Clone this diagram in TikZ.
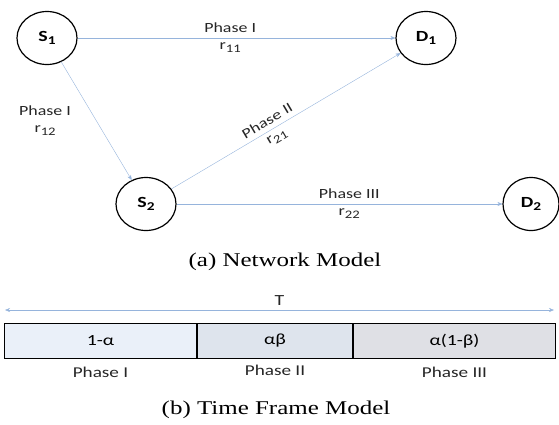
\documentclass[tikz,border=0pt]{standalone}
\usepackage{fontspec}
\setmainfont[FakeStretch=1.28]{Liberation Serif}
\newfontfamily\labelfont[FakeStretch=1.28]{Carlito}
\usetikzlibrary{shapes.geometric,arrows.meta}
\newcommand{\lsub}[2][11.5]{\raisebox{-0.45ex}{\fontsize{#1}{#1}\selectfont #2}}
\definecolor{linkblue}{RGB}{150,180,220}
\definecolor{boxa}{RGB}{234,240,249}
\definecolor{boxb}{RGB}{222,228,237}
\definecolor{boxc}{RGB}{223,224,229}
\tikzset{
  user/.style={ellipse,draw,line width=1.2pt,minimum width=60pt,minimum height=53pt,inner sep=0pt,font=\labelfont\fontsize{15.5}{15.5}\selectfont\bfseries},
  link/.style={draw=linkblue,-{Stealth[length=5pt,width=4pt]}},
  lbl/.style={align=center,font=\labelfont\fontsize{14}{17}\selectfont,text=black!85},
  slot/.style={draw,line width=1pt,minimum height=35pt,inner sep=0pt,font=\labelfont\fontsize{15.5}{15.5}\selectfont},
  caption/.style={font=\fontsize{19.5}{20}\selectfont}
}
\begin{document}
\begin{tikzpicture}[x=1pt,y=-1pt]
\useasboundingbox (0,0) rectangle (559,424);

% network model
\node[user] (s1) at (47,38) {S\lsub[12]{1}};
\node[user] (d1) at (426,38) {D\lsub[12]{1}};
\node[user] (s2) at (146,204) {S\lsub[12]{2}};
\node[user,minimum width=56pt] (d2) at (531,204) {D\lsub[12]{2}};

\draw[link] (s1) -- (d1) node[lbl,pos=0.48] {Phase I\\r\lsub{11}};
\draw[link] (s1) -- (s2) node[lbl,midway,anchor=east,xshift=-22pt] {Phase I\\r\lsub{12}};
\draw[link] (s2) -- (d1) node[lbl,sloped,pos=0.44] {Phase II\\r\lsub{21}};
\draw[link] (s2) -- (d2) node[lbl,pos=0.53] {Phase III\\r\lsub{22}};

\node[caption] (capa) at (285,262) {(a)\ Network Model};

% time frame
\coordinate (tl) at (5,310);
\coordinate (tr) at (554,310);
\draw[draw=linkblue,{Stealth[length=5pt,width=4pt]}-{Stealth[length=5pt,width=4pt]}] (tl) -- (tr) node[lbl,midway,above=1pt,font=\labelfont\fontsize{15.5}{15.5}\selectfont] (T) {T};

\node[slot,fill=boxa,minimum width=192pt,anchor=west] (p1) at (4,341) {1-α};
\node[slot,fill=boxb,minimum width=155pt,anchor=west] (p2) at (p1.east) {αβ};
\node[slot,fill=boxc,minimum width=202pt,anchor=west] (p3) at (p2.east) {α(1-β)};

\node[lbl,below=5pt,font=\labelfont\fontsize{15}{15}\selectfont] at (p1.south) (n1) {Phase I};
\node[lbl,below=3pt,font=\labelfont\fontsize{15}{15}\selectfont] at (p2.south) (n2) {Phase II};
\node[lbl,below=5pt,font=\labelfont\fontsize{15}{15}\selectfont] at (p3.south) (n3) {Phase III};

\node[caption] (capb) at (276,410) {(b)\ Time Frame Model};
\end{tikzpicture}
\end{document}
